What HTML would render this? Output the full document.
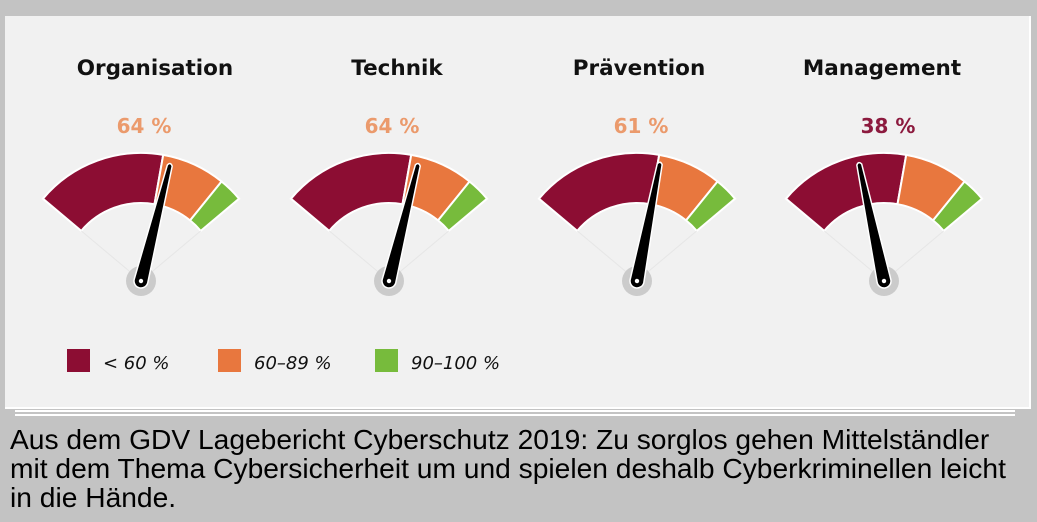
<!DOCTYPE html>
<html><head><meta charset="utf-8"><style>
body{margin:0;width:1037px;height:522px;background:#c3c3c3;overflow:hidden;font-family:"Liberation Sans",sans-serif;position:relative}
.panel{position:absolute;left:5px;top:16px;width:1024px;height:391px;background:#f1f1f1;border-right:2px solid #fff;border-bottom:2px solid #fff}
.l1{position:absolute;left:15px;top:410px;width:1000px;height:2px;background:#fff}
.l2{position:absolute;left:15px;top:414px;width:1000px;height:2px;background:#fff}
.cap{position:absolute;left:10px;top:425px;font-size:28.2px;line-height:29px;color:#000;white-space:nowrap}
svg{position:absolute;left:0;top:0}
</style></head><body>
<div class="panel"></div><div class="l1"></div><div class="l2"></div>
<svg width="1037" height="522" viewBox="0 0 1037 522">
<defs>
<g id="arc">
<path d="M-98.05,-82.3 A128,128 0 0 1 22.2,-126.1 L13.5,-76.8 A78,78 0 0 0 -59.75,-50.15 Z" fill="#8c0d33" stroke="#fff" stroke-width="2"/>
<path d="M22.2,-126.1 A128,128 0 0 1 80.55,-99.5 L49.1,-60.6 A78,78 0 0 0 13.5,-76.8 Z" fill="#e8773e" stroke="#fff" stroke-width="2"/>
<path d="M80.55,-99.5 A128,128 0 0 1 98.05,-82.3 L59.75,-50.15 A78,78 0 0 0 49.1,-60.6 Z" fill="#77bb3c" stroke="#fff" stroke-width="2"/>
<path d="M0,0 L-59.75,-50.15 M0,0 L59.75,-50.15" stroke="#e6e6e6" stroke-width="1"/>
<circle cx="0" cy="0" r="15" fill="#cbcbcb"/>
</g>
<g id="needle">
<path d="M-7,0 L-2.5,-119 Q0,-123 2.5,-119 L7,0 A7,7 0 0 1 -7,0 Z" fill="#000" stroke="#fff" stroke-width="1.5"/>
<circle cx="0" cy="0" r="2.2" fill="#fff"/>
</g>
</defs>
<g transform="translate(141,281)"><use href="#arc"/><g transform="rotate(14)"><use href="#needle"/></g></g>
<g transform="translate(389,281)"><use href="#arc"/><g transform="rotate(14)"><use href="#needle"/></g></g>
<g transform="translate(637,281)"><use href="#arc"/><g transform="rotate(11)"><use href="#needle"/></g></g>
<g transform="translate(884,281)"><use href="#arc"/><g transform="rotate(-12)"><use href="#needle"/></g></g>
<g font-family="DejaVu Sans, Liberation Sans, sans-serif" font-weight="bold" font-size="21.5" text-anchor="middle" fill="#111">
<text x="155" y="75">Organisation</text>
<text x="397" y="75">Technik</text>
<text x="639" y="75">Prävention</text>
<text x="882" y="75">Management</text>
</g>
<g font-family="DejaVu Sans, Liberation Sans, sans-serif" font-weight="bold" font-size="20" text-anchor="middle">
<text x="144" y="133" fill="#eb9a6c">64 %</text>
<text x="392" y="133" fill="#eb9a6c">64 %</text>
<text x="641" y="133" fill="#eb9a6c">61 %</text>
<text x="888" y="133" fill="#8c1a3e">38 %</text>
</g>
<rect x="67" y="349" width="23" height="23" fill="#8c0d33"/>
<rect x="218" y="349" width="23" height="23" fill="#e8773e"/>
<rect x="375" y="349" width="23" height="23" fill="#77bb3c"/>
<g font-family="DejaVu Sans, Liberation Sans, sans-serif" font-style="italic" font-size="18" fill="#111">
<text x="103" y="369">&lt; 60 %</text>
<text x="254" y="369">60–89 %</text>
<text x="411" y="369">90–100 %</text>
</g>
</svg>
<div class="cap">Aus dem GDV Lagebericht Cyberschutz 2019: Zu sorglos gehen Mittelständler<br>mit dem Thema Cybersicherheit um und spielen deshalb Cyberkriminellen leicht<br>in die Hände.</div>
</body></html>
